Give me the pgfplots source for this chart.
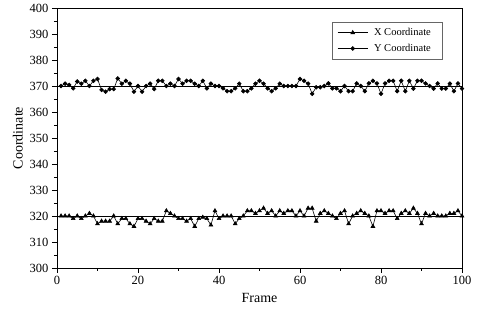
\documentclass[border=0pt]{standalone}
\usepackage{pgfplots}
\pgfplotsset{compat=1.18}
\usepackage{fontspec}
\setmainfont{Liberation Serif}
\begin{document}
\begin{tikzpicture}
\begin{axis}[
  scale only axis, width=405pt, height=260pt,
  xmin=0, xmax=100, ymin=300, ymax=400,
  xtick={0,20,...,100}, ytick={300,310,...,400},
  minor x tick num=1, minor y tick num=1,
  tick align=outside, tick pos=left,
  major tick length=5pt, minor tick length=3pt,
  every tick/.style={black, line width=0.8pt},
  axis line style={line width=0.8pt},
  /pgf/number format/assume math mode=true,
  tick label style={font=\fontsize{12.5}{14}\selectfont},
  xlabel={Frame}, ylabel={Coordinate},
  label style={font=\fontsize{14}{16}\selectfont},
  xlabel style={yshift=-2pt},
  ylabel style={yshift=0pt},
  legend style={at={(rel axis cs:0.951,0.946)}, anchor=north east,
    font=\fontsize{10.5}{12}\selectfont, draw=black!60, line width=0.5pt,
    row sep=3pt, inner xsep=5pt, inner ysep=4pt,
    nodes={inner xsep=6pt}},
  legend image code/.code={\draw[mark repeat=2,mark phase=2] plot coordinates {(0pt,0pt)(15pt,0pt)(30pt,0pt)};},
  legend cell align=left,
]
\coordinate (SW) at (rel axis cs:0,0);
\coordinate (NE) at (rel axis cs:1,1);
\addplot[black, line width=0.6pt, mark=triangle*, mark size=2.2pt] coordinates {
(1,320)(2,320)(3,320)(4,319)(5,320)(6,319)(7,320)(8,321)(9,320)(10,317)
(11,318)(12,318)(13,318)(14,320)(15,317)(16,319)(17,319)(18,317)(19,316)(20,319)
(21,319)(22,318)(23,317)(24,319)(25,318)(26,318)(27,322)(28,321)(29,320)(30,319)
(31,319)(32,318)(33,319)(34,316)(35,319)(36,319.5)(37,319)(38,316.5)(39,322)(40,319)
(41,320)(42,320)(43,320)(44,317)(45,319)(46,320)(47,322)(48,322)(49,321)(50,322)
(51,323)(52,321)(53,322)(54,320)(55,322)(56,321)(57,322)(58,322)(59,320)(60,322)
(61,320)(62,323)(63,323)(64,318)(65,321)(66,322)(67,321)(68,320)(69,319)(70,321)
(71,322)(72,317)(73,320)(74,321)(75,322)(76,321)(77,320)(78,316)(79,322)(80,322)
(81,321)(82,322)(83,322)(84,319)(85,321)(86,322)(87,321)(88,323)(89,321)(90,317)
(91,321)(92,320)(93,321)(94,320)(95,320)(96,320)(97,321)(98,321)(99,322)(100,320)
};
\addlegendentry{X Coordinate}
\addplot[black, line width=0.6pt, mark=*, mark size=1.9pt] coordinates {
(1,370)(2,370.9)(3,370.4)(4,369.1)(5,371.7)(6,370.9)(7,372)(8,370)(9,372)(10,372.7)
(11,368.5)(12,367.8)(13,368.8)(14,368.8)(15,372.9)(16,370.9)(17,372)(18,370.9)(19,367.8)(20,370)
(21,367.8)(22,370)(23,370.9)(24,368.8)(25,372)(26,372)(27,370)(28,370.9)(29,370)(30,372.7)
(31,370.9)(32,372)(33,372)(34,370.9)(35,370)(36,372)(37,369.1)(38,370.9)(39,370)(40,370)
(41,369.1)(42,368)(43,368)(44,369.1)(45,370.9)(46,368)(47,368)(48,369.1)(49,370.9)(50,372)
(51,370.9)(52,369.1)(53,368)(54,369.1)(55,370.9)(56,370)(57,370)(58,370)(59,370)(60,372.7)
(61,372)(62,370.9)(63,367)(64,369.5)(65,369.5)(66,370)(67,371)(68,369.1)(69,369.1)(70,368)
(71,370)(72,368)(73,368)(74,371)(75,370)(76,368)(77,371)(78,372)(79,371)(80,367)
(81,371)(82,372)(83,372)(84,368)(85,372)(86,368)(87,372)(88,369)(89,372)(90,372)
(91,371)(92,370)(93,369)(94,371)(95,369)(96,369)(97,370.9)(98,368)(99,371)(100,369)
};
\addlegendentry{Y Coordinate}
\addplot[black, line width=0.6pt, forget plot] coordinates {(0,320)(100,320)};
\addplot[black, line width=0.6pt, forget plot] coordinates {(0,370)(100,370)};
\end{axis}
\path ([shift={(-57pt,-49pt)}]SW) rectangle ([shift={(23pt,8pt)}]NE);
\end{tikzpicture}
\end{document}
